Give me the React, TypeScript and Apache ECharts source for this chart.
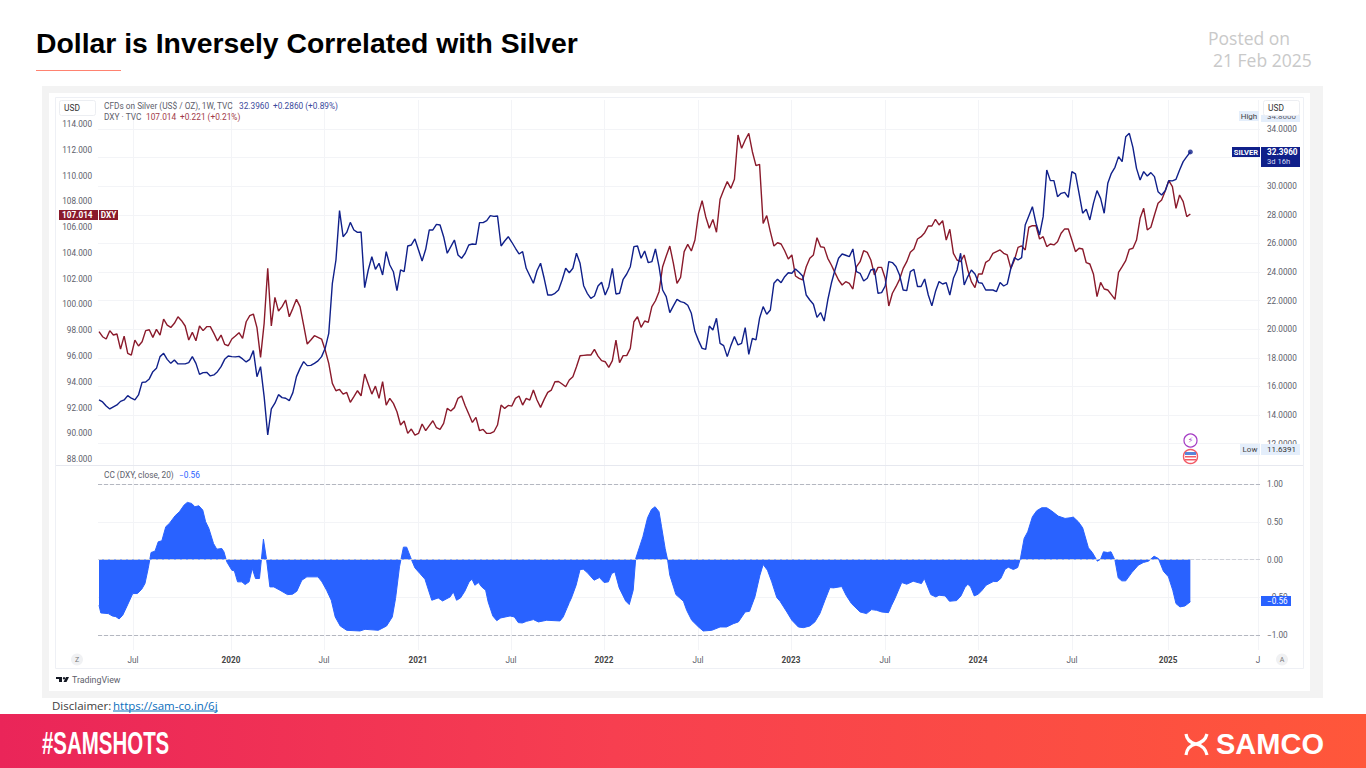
import React, { useEffect, useRef } from "react";
import * as echarts from "echarts";

// Weekly closes, week 0 = first bar (about Mar 2019)
const silver: number[] = [
  15.05,14.91,14.63,14.42,14.56,14.70,14.95,15.05,15.35,15.17,
  15.05,15.40,16.28,16.31,16.52,17.03,17.26,18.08,18.31,17.89,
  17.61,17.85,17.57,17.57,17.57,17.66,18.08,17.61,16.84,16.96,
  16.98,16.73,16.80,17.03,17.38,17.89,18.12,18.08,18.06,18.10,
  17.92,17.71,17.89,18.50,16.68,17.38,15.28,12.60,14.42,14.82,
  15.42,15.21,15.17,15.00,15.56,16.68,17.26,17.73,17.45,17.47,
  17.61,17.78,18.08,18.66,19.71,23.21,24.84,28.29,26.47,26.77,
  27.47,26.94,26.77,26.80,22.90,24.14,25.07,24.19,24.61,23.79,
  25.42,24.49,24.02,22.69,24.14,24.02,25.82,25.89,26.31,25.54,
  24.77,25.59,26.94,26.94,27.33,27.29,26.47,25.31,25.77,26.24,
  25.19,24.96,25.31,25.89,25.96,25.93,27.45,27.45,27.59,27.94,
  27.89,27.92,25.82,26.17,26.47,26.08,25.66,25.26,25.42,24.26,
  23.74,23.21,24.09,24.61,23.56,22.39,22.39,22.51,22.74,23.44,
  24.26,23.95,24.26,25.31,24.61,23.04,22.51,22.16,22.32,23.02,
  23.28,22.39,22.97,24.26,22.46,22.51,23.49,23.86,24.37,25.77,
  25.82,24.96,25.47,24.65,24.72,25.61,24.37,22.74,22.28,21.16,
  21.63,22.09,21.93,21.86,21.67,21.11,19.83,19.20,18.66,18.59,
  20.22,19.94,20.76,19.01,18.85,18.08,18.85,19.48,18.90,19.01,
  20.11,18.24,19.36,19.25,20.76,21.58,21.04,21.34,23.21,23.49,
  23.25,23.67,23.95,23.91,24.21,23.98,23.72,22.39,22.04,21.74,
  20.83,21.16,20.57,22.04,23.21,24.14,24.96,25.26,25.17,25.07,
  25.61,24.02,23.91,23.37,23.56,24.14,24.21,22.51,22.56,23.02,
  24.73,24.66,24.38,23.79,22.74,22.70,24.03,24.19,22.98,22.98,
  23.51,22.39,21.63,22.63,23.33,23.16,23.26,22.39,23.56,24.14,
  25.31,23.09,23.68,24.14,23.86,23.26,23.21,22.74,22.74,22.74,
  22.63,23.26,23.02,23.16,24.26,25.00,24.84,25.00,27.29,27.92,
  28.57,27.41,26.59,27.87,31.13,30.39,30.39,29.27,29.50,29.57,
  29.22,31.02,30.86,29.50,28.11,28.39,27.64,28.80,29.69,29.15,
  28.11,30.20,30.90,31.32,32.07,31.72,33.46,33.70,32.72,31.25,
  30.44,31.02,30.71,30.95,30.67,29.62,29.39,29.69,30.39,30.37,
  30.48,31.14,31.72,32.07,32.396,
];

const dxy: number[] = [
  97.89,97.50,97.32,97.97,97.63,97.71,96.54,97.55,96.21,96.08,
  97.24,96.78,97.11,97.97,98.04,97.45,98.07,97.63,98.87,98.40,
  98.22,98.54,99.05,98.74,98.33,97.24,97.84,97.19,98.33,97.97,
  98.28,98.28,97.76,97.17,97.63,96.91,96.80,97.32,97.55,97.81,
  97.37,98.66,99.13,99.26,98.20,95.90,98.54,102.80,98.33,100.55,
  99.49,99.83,100.35,99.05,99.70,100.40,99.83,98.40,96.93,97.24,
  97.58,97.45,97.32,96.47,95.43,93.88,93.31,93.41,93.05,93.18,
  92.41,92.85,93.31,92.92,94.60,93.83,93.05,93.67,92.72,94.01,
  92.20,92.72,92.33,91.68,90.65,90.96,90.00,90.34,89.87,90.00,
  90.73,90.21,90.60,90.98,90.44,90.31,90.78,91.94,91.74,92.00,
  92.72,92.90,92.15,91.50,90.85,91.24,90.21,90.31,90.00,90.00,
  90.13,90.65,92.20,91.94,92.17,92.12,92.72,92.90,92.20,92.72,
  92.59,93.36,92.59,92.02,92.64,93.18,93.36,94.01,94.03,93.83,
  93.62,94.14,94.40,95.17,96.02,96.05,96.08,96.08,96.52,96.00,
  95.64,95.56,95.12,95.64,97.24,95.48,96.03,96.03,96.60,98.66,
  99.05,98.23,98.72,98.61,99.83,100.29,100.99,102.93,103.76,104.53,
  103.19,101.64,102.10,104.10,104.66,104.15,105.00,107.07,108.05,106.81,
  105.91,106.60,105.60,108.16,108.88,109.53,109.01,109.71,113.15,112.11,
  112.76,113.28,111.85,110.77,110.87,106.29,106.89,105.65,104.53,104.79,
  104.69,104.17,103.53,103.84,102.21,102.03,101.90,102.93,103.58,103.84,
  105.18,104.48,104.43,103.58,103.06,102.47,101.90,101.51,101.77,101.64,
  101.20,102.93,103.32,104.17,104.04,103.45,102.29,102.88,102.88,102.03,
  99.88,100.87,101.38,101.95,102.80,103.32,104.05,104.30,105.08,105.26,
  105.57,106.09,106.09,106.61,106.17,106.50,105.00,105.83,103.97,103.45,
  103.32,103.84,102.68,101.77,101.31,102.37,102.37,103.27,103.45,103.97,
  104.10,104.23,103.97,103.84,102.80,103.45,104.43,104.54,104.23,105.99,
  106.11,106.11,105.08,105.26,104.49,104.69,104.62,104.87,105.52,105.86,
  105.86,105.00,104.10,104.36,104.30,103.24,103.14,102.37,100.61,101.72,
  101.20,101.12,100.76,100.40,102.49,102.93,103.40,104.28,104.36,105.00,
  106.68,107.46,105.78,105.99,106.94,107.85,108.11,108.80,109.61,109.14,
  107.46,108.49,107.98,106.81,107.014,
];

// Correlation coefficient: weeks at which a value was read, and the value read there
const ccWeeks: number[] = [
  0,0.5,2.6,3.7,4.7,5.6,6.6,7.7,9.4,10.7,11.9,12.8,13.7,14.5,15.6,16.5,17.5,18.6,19.6,21.2,
  22.4,23.7,24.6,25.8,26.7,27.8,28.9,29.7,30.6,31.9,32.8,34.2,34.8,35.6,37,37.7,38.6,39.8,40.7,41.8,
  42.7,43.6,44.7,45.8,46.7,47.6,48.7,50.4,52.5,53.9,55.1,56.5,57.9,61,62.1,63.4,64.7,65.8,67.2,69,
  72.7,74.1,77.8,80.1,81.7,82.6,83.7,84.8,85.7,87.1,88,89.4,90.8,92.7,94.5,95.7,97.8,98.7,99.6,100.7,
  101.9,103.1,103.9,104.7,105.7,106.6,107.7,108.4,109.7,110.8,111.9,114.5,115.7,116.8,117.9,119.1,121,122.4,124.7,128.4,
  129.3,130.3,131,131.6,132.9,134,134.9,136,137.9,139.4,140.7,141.9,142.8,143.7,144.9,146.7,147.7,148.8,149.5,151.5,
  152.8,153.9,154.9,156,156.7,157.7,158.4,159,160.7,162.8,163.7,165.1,167,168.3,170.7,173,174.8,176.7,178.1,180,
  181.2,182.7,184.1,185,186.2,187.4,188.8,189.7,191.6,193,194.8,196.2,198,199.4,200.8,202.2,203.6,204.6,206.9,208.1,
  209.6,212,213.8,215.2,216.6,218,219.9,220.8,221.7,223.6,225,226.8,229.1,229.9,231.7,233.1,234,235.7,236.9,238.9,
  240.1,241.2,242,242.8,243.8,244.9,246,247.1,249.1,250.2,251.2,252.4,253.3,254.7,255.9,256.7,257.7,258.7,260,261.2,
  262.6,264,265.3,267.2,269.1,270.5,271.4,272.8,274,275.6,276.7,278.1,279,279.8,280.9,281.9,283,283.9,284.9,286,
  287.7,289.5,290.9,292.3,293.9,295.1,296.5,297.9,299.1,300,301.1,302.5,304,
];
const ccValues: number[] = [
  -0.606,-0.708,-0.717,-0.748,-0.757,-0.788,-0.739,-0.628,-0.451,-0.451,-0.394,-0.319,-0.119,0.093,0.111,0.235,0.248,0.434,0.478,0.58,
  0.633,0.721,0.757,0.743,0.699,0.712,0.655,0.5,0.412,0.212,0.137,0.146,0.102,-0.031,-0.142,-0.15,-0.296,-0.296,-0.332,-0.296,
  -0.119,-0.252,-0.252,0.27,-0.009,-0.363,-0.363,-0.407,-0.465,-0.46,-0.42,-0.274,-0.23,-0.23,-0.296,-0.407,-0.54,-0.761,-0.881,-0.938,
  -0.947,-0.925,-0.938,-0.881,-0.761,-0.518,-0.097,0.164,0.164,-0.009,-0.111,-0.186,-0.261,-0.54,-0.509,-0.549,-0.496,-0.429,-0.54,-0.509,
  -0.42,-0.296,-0.261,-0.341,-0.305,-0.363,-0.407,-0.562,-0.748,-0.81,-0.774,-0.748,-0.761,-0.836,-0.841,-0.819,-0.796,-0.827,-0.805,-0.814,
  -0.761,-0.65,-0.571,-0.509,-0.341,-0.133,-0.128,-0.173,-0.274,-0.239,-0.305,-0.296,-0.186,-0.164,-0.376,-0.549,-0.597,-0.407,0.013,0.301,
  0.553,0.664,0.699,0.633,0.434,0.146,-0.009,-0.208,-0.465,-0.553,-0.673,-0.805,-0.894,-0.947,-0.938,-0.894,-0.894,-0.85,-0.827,-0.695,
  -0.686,-0.496,-0.208,-0.066,-0.142,-0.296,-0.504,-0.553,-0.695,-0.805,-0.894,-0.903,-0.881,-0.827,-0.717,-0.54,-0.372,-0.376,-0.358,-0.473,
  -0.584,-0.695,-0.717,-0.664,-0.673,-0.695,-0.704,-0.606,-0.518,-0.305,-0.327,-0.288,-0.319,-0.252,-0.465,-0.496,-0.473,-0.482,-0.553,-0.544,
  -0.482,-0.372,-0.327,-0.363,-0.482,-0.46,-0.407,-0.341,-0.292,-0.292,-0.252,-0.128,-0.102,-0.133,-0.106,0.022,0.279,0.367,0.566,0.646,
  0.686,0.686,0.646,0.575,0.544,0.553,0.562,0.5,0.42,0.155,0.093,-0.022,0.004,0.102,0.093,0.102,-0.009,-0.243,-0.283,-0.283,
  -0.173,-0.075,-0.04,-0.022,0.044,0.013,-0.155,-0.23,-0.407,-0.584,-0.628,-0.615,-0.56,
];

// Ticks
const xTickWeeks: number[] = [9.47,36.77,62.67,88.86,114.76,140.67,166.85,192.76,218.94,244.85,271.03,297.8,322.84];
const xTickLabels: string[] = ["Jul","2020","Jul","2021","Jul","2022","Jul","2023","Jul","2024","Jul","2025","J"];
const dxyTicks: number[] = [88,90,92,94,96,98,100,102,104,106,108,110,112,114];
const silverTicks: number[] = [12,14,16,18,20,22,24,26,28,30,32,34];
// 32.0000 sits wholly under the SILVER last-value tag, so it has no visible label
const silverLabels: number[] = [12,14,16,18,20,22,24,26,28,30,34];
const ccTicks: number[] = [-1,-0.5,0,0.5,1];

const TV_FONT = "Roboto, sans-serif";
const RED = "#8a1a2b";
const NAVY = "#10208a";
const BLUE = "#2962ff";

type Opt = { size?: number; fill?: string; weight?: string; family?: string; align?: string; z?: number; scaleX?: number };
function txt(text: string, x: number, y: number, o: Opt = {}) {
  return {
    type: "text", x, y, z: o.z ?? 60, scaleX: o.scaleX ?? 1, silent: true,
    style: {
      text, fill: o.fill ?? "#5d606b",
      font: `${o.weight ?? "normal"} ${o.size ?? 8}px ${o.family ?? TV_FONT}`,
      textAlign: o.align ?? "left", textVerticalAlign: "middle",
    },
  };
}
function box(x: number, y: number, w: number, h: number, fill: string, z = 55, stroke?: string, r = 0) {
  return {
    type: "rect", z, silent: true,
    shape: { x, y, width: w, height: h, r },
    style: { fill, stroke: stroke ?? undefined, lineWidth: stroke ? 1 : 0 },
  };
}
function seg(x1: number, y1: number, x2: number, y2: number, stroke: string, z = 1, lineWidth = 1) {
  return { type: "line", z, silent: true, shape: { x1, y1, x2, y2 }, style: { stroke, lineWidth } };
}
function curve(x1: number, y1: number, cx: number, cy: number, x2: number, y2: number) {
  return {
    type: "bezierCurve", z: 60, silent: true,
    shape: { x1, y1, x2, y2, cpx1: cx, cpy1: cy },
    style: { stroke: "#fff", lineWidth: 3.2, fill: "none" },
  };
}

function buildGraphics() {
  return [
    // page furniture behind the plot
    box(42, 86, 1281, 612, "#f3f3f3", -10),
    box(49, 93, 1261, 598, "#ffffff", -9),
    box(55.5, 97.5, 1248, 571, "rgba(0,0,0,0)", -8, "#eef0f5"),
    seg(56, 465.5, 1303, 465.5, "#e6e8ef", 1),

    // heading
    txt("Dollar is Inversely Correlated with Silver", 36, 43, { size: 28.35, weight: "bold", fill: "#000", family: "'Liberation Sans', Arial, sans-serif" }),
    seg(36, 70.5, 121, 70.5, "#ff8270", 60),
    txt("Posted on", 1208, 38, { size: 17.5, fill: "#c9c9c9", family: "'Open Sans', sans-serif" }),
    txt("21 Feb 2025", 1213, 60, { size: 17.5, fill: "#c9c9c9", family: "'Open Sans', sans-serif" }),

    // chart legends
    txt("CFDs on Silver (US$ / OZ), 1W, TVC", 104, 105.5, { size: 8.3 }),
    txt("32.3960", 239, 105.5, { size: 8.3, fill: "#3b4a9c" }),
    txt("+0.2860 (+0.89%)", 273, 105.5, { size: 8.3, fill: "#3b4a9c" }),
    txt("DXY · TVC", 104, 117, { size: 8.3 }),
    txt("107.014", 146, 117, { size: 8.3, fill: "#a13a48" }),
    txt("+0.221 (+0.21%)", 180, 117, { size: 8.3, fill: "#a13a48" }),
    txt("CC (DXY, close, 20)", 104, 475, { size: 8.3 }),
    txt("−0.56", 179, 475, { size: 8.3, fill: BLUE }),

    // currency buttons
    box(59.5, 100.5, 36, 15, "#ffffff", 70, "#eceef2", 2),
    txt("USD", 72, 108, { size: 8.4, fill: "#333", align: "center", z: 71 }),
    box(1263.5, 100.5, 36, 15, "#ffffff", 70, "#eceef2", 2),
    txt("USD", 1276, 108, { size: 8.4, fill: "#333", align: "center", z: 71 }),

    // high / low
    box(1239, 111, 20, 10, "#e4eefb"),
    txt("High", 1249, 116, { size: 8, fill: "#444", align: "center", z: 56 }),
    box(1261, 115, 39, 7, "#e4eefb"),
    txt("34.8600", 1267, 116.5, { size: 8, z: 56 }),
    box(1240, 444, 20, 11, "#e4eefb"),
    txt("Low", 1250, 449.5, { size: 8, fill: "#444", align: "center", z: 56 }),
    box(1261, 444, 39, 11, "#e4eefb"),
    txt("11.6391", 1267, 449.5, { size: 8, fill: "#333", z: 56 }),

    // last value tags
    box(59, 210, 39, 10, RED),
    txt("107.014", 62, 215, { size: 8.2, fill: "#fff", weight: "bold", z: 56 }),
    box(99, 210, 19, 10, RED),
    txt("DXY", 108.5, 215, { size: 8.2, fill: "#fff", weight: "bold", align: "center", z: 56 }),
    box(1232, 147, 28, 10, NAVY),
    txt("SILVER", 1246, 152, { size: 7.6, fill: "#fff", weight: "bold", align: "center", z: 56 }),
    box(1261, 147, 39, 20, NAVY),
    txt("32.3960", 1267, 152, { size: 8.2, fill: "#fff", weight: "bold", z: 56 }),
    txt("3d 16h", 1267, 161.5, { size: 7.6, fill: "#d6dcf5", z: 56 }),
    box(1261, 596, 30, 10, BLUE),
    txt("−0.56", 1267, 601, { size: 8.2, fill: "#fff", z: 56 }),

    // event markers
    { type: "circle", z: 60, silent: true, shape: { cx: 1190.5, cy: 440.5, r: 6.5 }, style: { fill: "#fff", stroke: "#a53cc4", lineWidth: 1.2 } },
    txt("⚡", 1190.5, 440.5, { size: 8, fill: "#a53cc4", align: "center", z: 61, family: "'DejaVu Sans', sans-serif" }),
    { type: "circle", z: 60, silent: true, shape: { cx: 1190.5, cy: 456.5, r: 7 }, style: { fill: "#fff", stroke: "#f25b67", lineWidth: 1.4 } },
    box(1185, 452, 11, 3, "#5a86d8", 61),
    box(1185, 456, 11, 1.5, "#f25b67", 61),
    box(1185, 459, 11, 1.5, "#f25b67", 61),

    // pane corner buttons
    { type: "circle", z: 60, silent: true, shape: { cx: 77, cy: 659.5, r: 6 }, style: { fill: "#f0f1f3" } },
    txt("Z", 77, 659.5, { size: 7, align: "center", z: 61, fill: "#777" }),
    { type: "circle", z: 60, silent: true, shape: { cx: 1282, cy: 659.5, r: 6 }, style: { fill: "#f0f1f3" } },
    txt("A", 1282, 659.5, { size: 7, align: "center", z: 61, fill: "#777" }),

    // TradingView mark
    box(56, 677, 6, 2, "#131722", 60),
    box(59, 677, 3, 5, "#131722", 60),
    { type: "circle", z: 60, silent: true, shape: { cx: 64, cy: 678.2, r: 1.2 }, style: { fill: "#131722" } },
    { type: "polygon", z: 60, silent: true, shape: { points: [[66, 677], [69, 677], [66.5, 682], [63.5, 682]] }, style: { fill: "#131722" } },
    txt("TradingView", 72, 679.5, { size: 8.8, fill: "#5d606b" }),

    // disclaimer
    txt("Disclaimer:", 52, 705, { size: 11.5, fill: "#404040", family: "'Open Sans', sans-serif" }),
    txt("https://sam-co.in/6j", 113, 705, { size: 11.5, fill: "#0a6ebd", family: "'Open Sans', sans-serif" }),
    seg(113, 711, 218, 711, "#0a6ebd", 60),

    // footer band
    {
      type: "rect", z: 50, silent: true, shape: { x: 0, y: 714, width: 1366, height: 54 },
      style: {
        fill: new echarts.graphic.LinearGradient(0, 0, 1, 0, [
          { offset: 0, color: "#ea2559" },
          { offset: 0.45, color: "#f73f50" },
          { offset: 1, color: "#ff573a" },
        ]),
      },
    },
    txt("#SAMSHOTS", 42, 743, { size: 31, weight: "bold", fill: "#fff", scaleX: 0.66, family: "'Liberation Sans', sans-serif" }),
    txt("SAMCO", 1216, 744, { size: 29, weight: "bold", fill: "#fff", family: "'Liberation Sans', sans-serif" }),
    curve(1186, 734, 1187, 742, 1196, 744),
    curve(1207, 734, 1205, 742, 1196, 744),
    curve(1186, 755, 1187, 746, 1196, 744),
    curve(1207, 755, 1205, 746, 1196, 744),
  ];
}

export default function App() {
  const ref = useRef<HTMLDivElement>(null);
  useEffect(() => {
    document.body.style.margin = "0";
    const chart = echarts.init(ref.current!, undefined, { renderer: "svg" });
    const weekMin = -0.28;
    const weekMax = 323.4;
    const grid = "#f3f4f7";
    const labelFont = { fontFamily: TV_FONT, fontSize: 8.2, color: "#5d606b" };
    const last = silver.length - 1;
    const xBase = {
      type: "value", min: weekMin, max: weekMax,
      axisLine: { show: false },
      axisTick: { show: false, customValues: xTickWeeks },
      splitLine: { show: true, lineStyle: { color: grid, width: 1 } },
    };
    chart.setOption({
      animation: false,
      backgroundColor: "#ffffff",
      graphic: { elements: buildGraphics() },
      grid: [
        { left: 98, width: 1162, top: 100, height: 365 },
        { left: 98, width: 1162, top: 466, height: 184 },
      ],
      xAxis: [
        { ...xBase, gridIndex: 0, axisLabel: { show: false } },
        {
          ...xBase, gridIndex: 1,
          axisLabel: {
            show: true, margin: 6, customValues: xTickWeeks, hideOverlap: false,
            formatter: (v: number) => {
              const i = xTickWeeks.indexOf(v);
              const s = xTickLabels[i] ?? "";
              return /^\d/.test(s) ? `{y|${s}}` : s;
            },
            ...labelFont,
            rich: { y: { fontFamily: TV_FONT, fontSize: 8.2, color: "#444", fontWeight: "bold" } },
          },
        },
      ],
      yAxis: [
        {
          type: "value", gridIndex: 0, position: "right", min: 10.5, max: 36.03,
          axisLine: { show: false },
          axisTick: { show: false, customValues: silverTicks },
          axisLabel: { margin: 7, customValues: silverLabels, formatter: (v: number) => v.toFixed(4), ...labelFont },
          splitLine: { show: true, lineStyle: { color: grid, width: 1 } },
        },
        {
          type: "value", gridIndex: 0, position: "left", min: 87.55, max: 115.86,
          axisLine: { show: false },
          axisTick: { show: false, customValues: dxyTicks },
          axisLabel: { margin: 6, customValues: dxyTicks, formatter: (v: number) => v.toFixed(3), ...labelFont },
          splitLine: { show: false },
        },
        {
          type: "value", gridIndex: 1, position: "right", min: -1.199, max: 1.239,
          axisLine: { show: false },
          axisTick: { show: false, customValues: ccTicks },
          axisLabel: { margin: 7, customValues: ccTicks, formatter: (v: number) => v.toFixed(2).replace("-", "−"), ...labelFont },
          splitLine: { show: true, lineStyle: { color: grid, width: 1 } },
        },
      ],
      series: [
        {
          name: "DXY", type: "line", xAxisIndex: 0, yAxisIndex: 1, symbol: "none",
          lineStyle: { color: RED, width: 1.4 }, itemStyle: { color: RED },
          data: dxy.map((v, i) => [i, v]),
        },
        {
          name: "Silver", type: "line", xAxisIndex: 0, yAxisIndex: 0, symbol: "none",
          lineStyle: { color: NAVY, width: 1.4 }, itemStyle: { color: NAVY },
          data: silver.map((v, i) => [i, v]),
        },
        {
          name: "Silver last", type: "scatter", xAxisIndex: 0, yAxisIndex: 0, symbolSize: 5,
          itemStyle: { color: NAVY }, data: [[last, silver[last]]],
        },
        {
          name: "CC", type: "line", xAxisIndex: 1, yAxisIndex: 2, symbol: "none",
          lineStyle: { color: BLUE, width: 1 }, itemStyle: { color: BLUE },
          areaStyle: { color: BLUE, opacity: 1, origin: 0 },
          data: ccWeeks.map((w, i) => [w, ccValues[i]]),
          markLine: {
            silent: true, symbol: "none", label: { show: false },
            lineStyle: { color: "#b4b7c0", type: "dashed", width: 1 },
            data: [{ yAxis: 1 }, { yAxis: 0, lineStyle: { color: "#cfd1d8", type: "dashed", width: 1 } }, { yAxis: -1 }],
          },
        },
      ],
    });
    return () => chart.dispose();
  }, []);
  return <div ref={ref} style={{ position: "absolute", left: 0, top: 0, width: 1366, height: 768 }} />;
}
